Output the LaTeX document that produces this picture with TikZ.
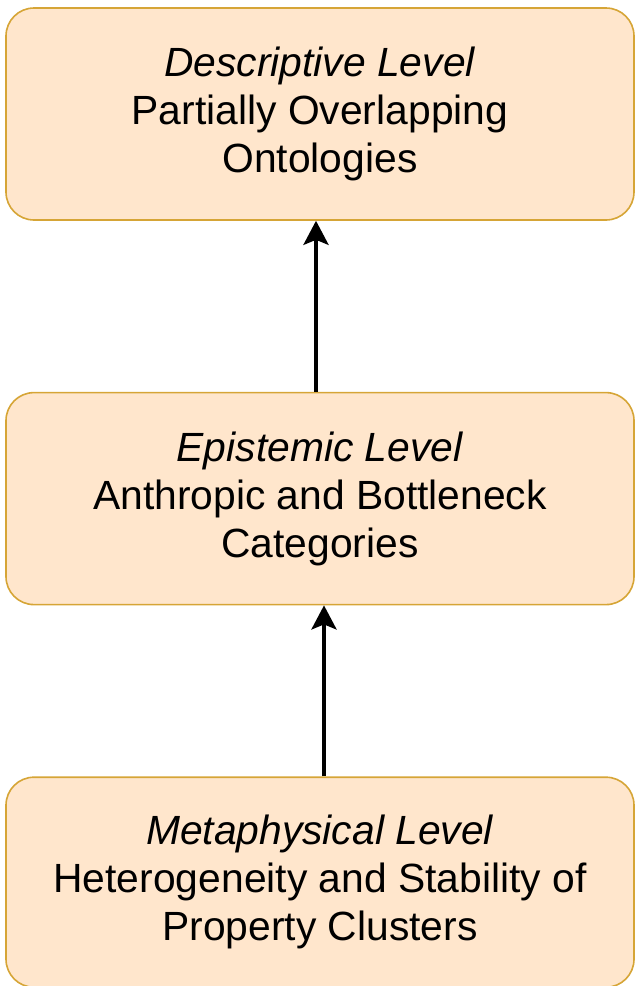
\documentclass[tikz,border=0pt]{standalone}
\usepackage{fontspec}
\setmainfont{Liberation Sans}
\usetikzlibrary{arrows.meta,positioning}
\definecolor{levelfill}{HTML}{FFE6CC}
\definecolor{leveldraw}{HTML}{D6A536}

\begin{document}
\begin{tikzpicture}[
        x=0.5pt, y=-0.5pt,
        node distance=85.5pt,
        level/.style={draw=leveldraw, line width=0.8pt, rounded corners=14pt, fill=levelfill, align=center, minimum width=314pt, minimum height=106pt, inner sep=0pt, font=\fontsize{20.4}{24}\selectfont},
        link/.style={-{Stealth[length=12pt, width=12.5pt, inset=2.5pt]}, line width=2pt}
    ]
    \useasboundingbox (0,0) rectangle (635,986);

    % Nodes
    \node[level] (descr) at (320,114) {\textit{Descriptive Level}\\
        Partially Overlapping\\
        Ontologies};
    \node[level, below=of descr] (epist) {\textit{Epistemic Level}\\
        Anthropic and Bottleneck\\
        Categories};
    \node[level, below=of epist, minimum height=105pt] (meta) {\textit{Metaphysical Level}\\
        Heterogeneity and Stability of\\
        Property Clusters};

    % Arrows
    \draw[link] ([xshift=-2pt]epist.north) -- ([xshift=-2pt]descr.south);
    \draw[link] ([xshift=2pt]meta.north) -- ([xshift=2pt]epist.south);

\end{tikzpicture}
\end{document}
